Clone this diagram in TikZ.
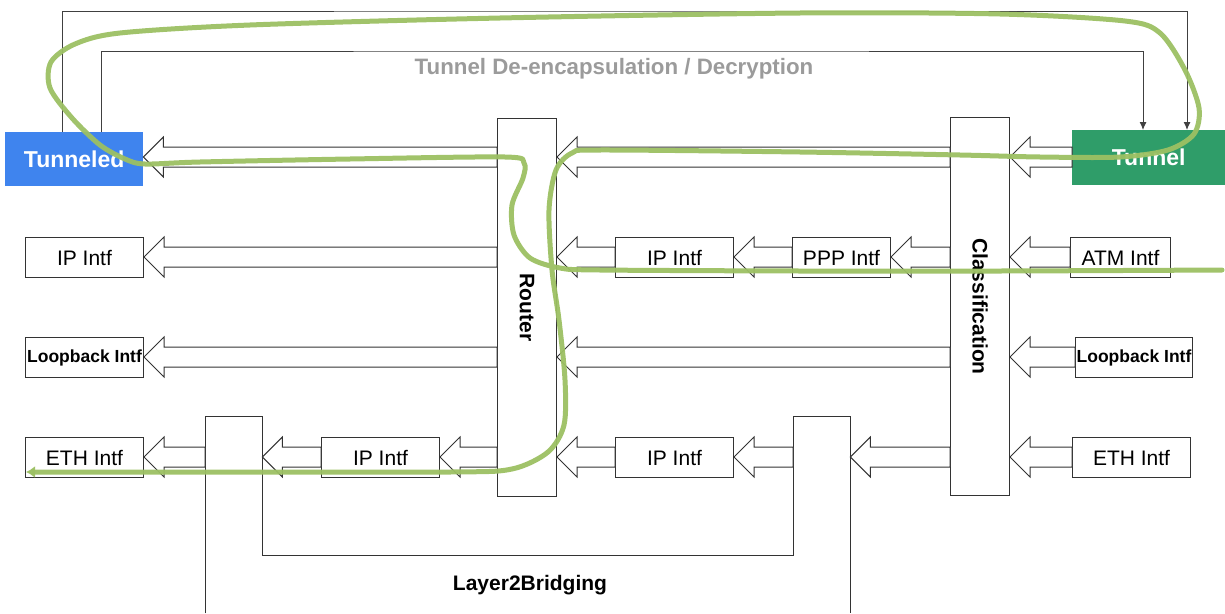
\documentclass[tikz,border=0pt]{standalone}
\usepackage{fontspec}
\setmainfont{Liberation Sans}
\usetikzlibrary{calc,arrows.meta}
\definecolor{tunblue}{HTML}{3F84EE}
\definecolor{tungreen}{HTML}{2F9D69}
\definecolor{pathgreen}{HTML}{9CC063}
\definecolor{labelgray}{HTML}{9B9B9B}
\tikzset{
	box/.style={draw=black!80, line width=1pt, fill=white, inner sep=0pt, anchor=north west},
	intf/.style={box, minimum width=118pt, minimum height=40pt, font=\fontsize{21}{24}\selectfont},
	smallintf/.style={intf, font=\fontsize{17.5}{20}\selectfont\bfseries},
	stage/.style={box, minimum width=59pt, minimum height=378pt, font=\fontsize{21}{24}\selectfont\bfseries},
	endpoint/.style={inner sep=0pt, anchor=north west, text=white, font=\fontsize{23}{26}\selectfont\bfseries},
	hollowarr/.style={draw=black!80, line width=1pt, fill=white, line join=miter},
	thinarr/.style={draw=black!75, line width=1pt, -{Latex[length=8pt,width=7pt]}},
	flow/.style={draw=pathgreen, line width=5pt, line cap=round, line join=round, opacity=0.95, -{Latex[length=9pt,width=12pt]}}
}
\def\hollow(#1)(#2)(#3){\draw[hollowarr] (#2.east |- #3) -- ++(20,-20) -- ++(0,10) -- ($(#1.west |- #3)+(0,-10)$) -- ++(0,20) -- ($(#2.east |- #3)+(20,10)$) -- ++(0,10) -- cycle;}

\begin{document}
\begin{tikzpicture}[x=1pt, y=-1pt]
			%%%%% START %%%%%
			\useasboundingbox (0,0) rectangle (1225,613);
			
			\coordinate (r1) at (0,157);
			\coordinate (r2) at (0,257);
			\coordinate (r3) at (0,357);
			\coordinate (r4) at (0,457);
			\coordinate (topout) at (600,11);
			\coordinate (topin) at (600,51);
			\coordinate (brbase) at (0,555);
			
			\node[endpoint, fill=tunblue, minimum width=138pt, minimum height=54pt] (tunneled) at (5,132) {Tunneled};
			\node[endpoint, fill=tungreen, minimum width=153pt, minimum height=55pt] (tunnel) at (1072,130) {Tunnel};
			
			\draw[thinarr] ($(tunneled.north west)+(57,0)$) |- (topout) -| ($(tunnel.north west)+(115,0)$);
			\draw[thinarr] ($(tunneled.north west)+(96,0)$) |- (topin) -| ($(tunnel.north west)+(71,0)$);
			\node[text=labelgray, font=\fontsize{22.3}{25}\selectfont\bfseries] (tunlabel) at (614,69) {Tunnel De-encapsulation / Decryption};
			
			\node[stage] (router) at (497,118) {\rotatebox{-90}{Router}};
			\node[stage] (classif) at (950,117) {\rotatebox{-90}{Classification}};
			
			% left side
			\node[intf] (ipL) at (25,237) {IP Intf};
			\node[smallintf] (lbL) at (25,337) {Loopback Intf};
			\node[intf] (ethL) at (25,437) {ETH Intf};
			\node[intf] (ipL4) at (321,437) {IP Intf};
			
			% right side
			\node[intf] (ipR) at (615,237) {IP Intf};
			\node[intf, minimum width=98pt] (pppR) at (792,237) {PPP Intf};
			\node[intf, minimum width=100pt] (atm) at (1070,237) {ATM Intf};
			\node[smallintf, minimum width=117pt] (lbR) at (1075,337) {Loopback Intf};
			\node[intf] (ipR4) at (615,437) {IP Intf};
			\node[intf] (ethR) at (1072,437) {ETH Intf};
			
			% bridging
			\node[inner sep=0pt, anchor=north west, minimum width=57pt, minimum height=197pt] (brleft) at (205,416) {};
			\node[inner sep=0pt, anchor=north west, minimum width=57pt, minimum height=197pt] (brright) at (793,416) {};
			\draw[draw=black!80, line width=1pt] (brleft.south west) -- (brleft.north west) -- (brleft.north east) -- (brleft.east |- brbase) -- (brright.west |- brbase) -- (brright.north west) -- (brright.north east) -- (brright.south east);
			\node[font=\fontsize{21}{24}\selectfont\bfseries] (brlabel) at (530,585) {Layer2Bridging};
			
			\hollow(router)(tunneled)(r1)
			\hollow(classif)(router)(r1)
			\hollow(tunnel)(classif)(r1)
			
			\hollow(router)(ipL)(r2)
			\hollow(ipR)(router)(r2)
			\hollow(pppR)(ipR)(r2)
			\hollow(classif)(pppR)(r2)
			\hollow(atm)(classif)(r2)
			
			\hollow(router)(lbL)(r3)
			\hollow(classif)(router)(r3)
			\hollow(lbR)(classif)(r3)
			
			\hollow(brleft)(ethL)(r4)
			\hollow(ipL4)(brleft)(r4)
			\hollow(router)(ipL4)(r4)
			\hollow(ipR4)(router)(r4)
			\hollow(brright)(ipR4)(r4)
			\hollow(classif)(brright)(r4)
			\hollow(ethR)(classif)(r4)
			
			\draw[flow] plot[smooth, tension=0.5] coordinates {
				(1222,270) (1000,271) (800,271) (600,270) (560,268) (530,258) (514,235) (512,205) (523,178) (524,163) (505,157)
				(350,159) (200,162) (145,164) (125,159) (100,145) (72,118) (50,88) (51,62) (75,44) (120,33) (250,25)
				(500,18) (800,13) (1000,14) (1125,21) (1160,33) (1185,70) (1199,108) (1194,134) (1168,150) (1120,157)
				(1040,157) (960,155) (800,152) (600,150) (572,153) (556,170) (549,210) (552,270) (559,320) (565,380)
				(564,425) (548,452) (512,469) (450,472) (200,472) (26,472)};
			
			%%%%% END %%%%%
\end{tikzpicture}
\end{document}
